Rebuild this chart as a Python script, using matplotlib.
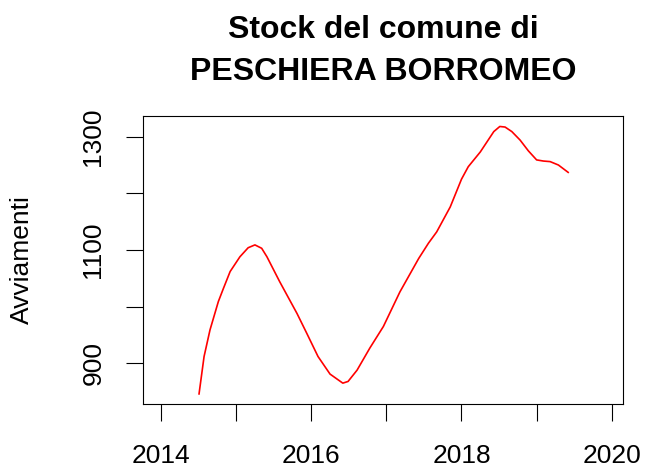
import numpy as np
import matplotlib
matplotlib.use("Agg")
from matplotlib import pyplot as plt

# values (stock of hires, by year)
years = [2014.506, 2014.573, 2014.652, 2014.763, 2014.83, 2014.92, 2015.05, 2015.16,
         2015.25, 2015.34, 2015.41, 2015.58, 2015.81, 2015.94, 2016.09, 2016.25,
         2016.42, 2016.49, 2016.61, 2016.78, 2016.96, 2017.18, 2017.43, 2017.56,
         2017.67, 2017.85, 2018.0, 2018.09, 2018.25, 2018.34, 2018.43, 2018.51,
         2018.58, 2018.67, 2018.78, 2018.89, 2019.0, 2019.09, 2019.18, 2019.29,
         2019.42]
stock = [846, 912, 959, 1009, 1032, 1062, 1088, 1104,
         1109, 1103, 1088, 1044, 988, 953, 912, 881,
         865, 868, 888, 927, 965, 1026, 1085, 1112,
         1132, 1176, 1225, 1247, 1273, 1291, 1309, 1318,
         1317, 1309, 1294, 1275, 1259, 1257, 1256, 1250,
         1237]

x_ticks = [2014, 2015, 2016, 2017, 2018, 2019, 2020]
x_labels = ["2014", "", "2016", "", "2018", "", "2020"]
y_ticks = [900, 1000, 1100, 1200, 1300]
y_labels = ["900", "", "1100", "", "1300"]

plt.rcParams['font.family'] = ['Liberation Sans', 'DejaVu Sans']

fig = plt.figure(figsize=(6.45, 4.71), dpi=100)
ax = fig.add_axes([143 / 645, 67 / 471, 480 / 645, 288 / 471])

ax.plot(years, stock, color="red", lw=1.2)

ax.set_xlim(2013.76, 2020.15)
ax.set_ylim(828.2, 1336.5)

ax.set_xticks(x_ticks)
ax.set_xticklabels(x_labels)
ax.set_yticks(y_ticks)
ax.set_yticklabels(y_labels, rotation=90, va="center")

ax.tick_params(axis="both", direction="out", length=12.5, width=0.8,
               labelsize=19, pad=16)
ax.tick_params(axis="y", pad=14.5)
for s in ax.spines.values():
    s.set_linewidth(0.8)

ax.set_ylabel("Avviamenti", fontsize=19, labelpad=34)
ax.set_title("Stock del comune di\nPESCHIERA BORROMEO", fontsize=23,
             fontweight="bold", pad=26, linespacing=1.5)

fig.savefig("out.png", dpi=100)
